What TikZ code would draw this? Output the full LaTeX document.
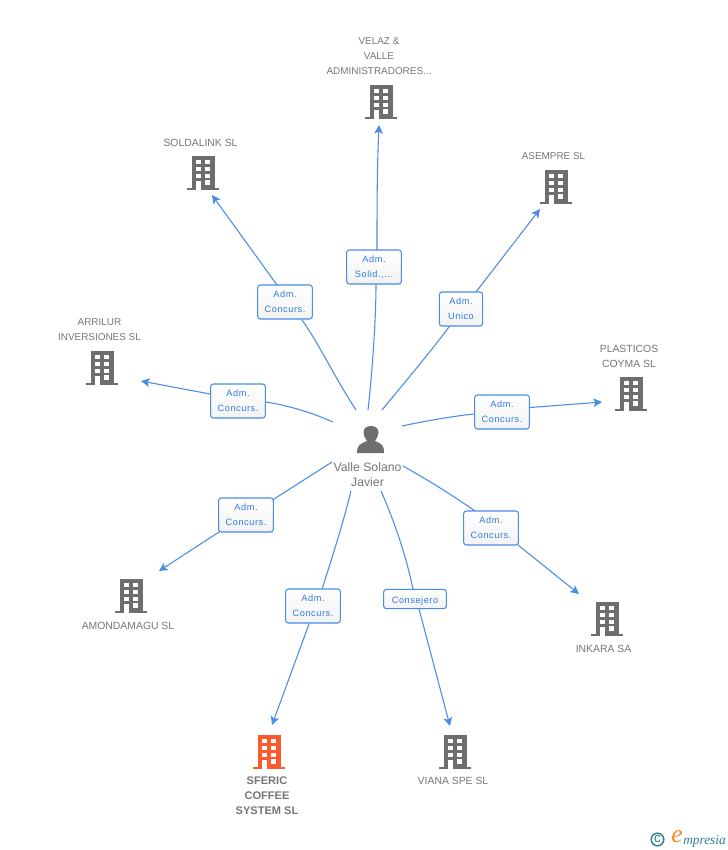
\documentclass[tikz,border=0pt]{standalone}
\usepackage{fontspec}
\setmainfont{Liberation Sans}
\newfontfamily\lblfont[LetterSpace=6]{Liberation Sans}
\newfontfamily\logofont{Liberation Serif}
\definecolor{linkblue}{HTML}{4A8CE6}
\definecolor{labelblue}{HTML}{2E7BE0}
\definecolor{icongrey}{HTML}{6E6E6E}
\definecolor{textgrey}{HTML}{767676}
\definecolor{sferic}{HTML}{FF5A2C}
\definecolor{logoteal}{HTML}{2F7F93}
\definecolor{logoorange}{HTML}{F58A1F}
\usetikzlibrary{arrows.meta}
\tikzset{
  x=0.75pt,y=-0.75pt,
  link/.style={draw=linkblue,line width=0.8pt,-{Stealth[length=6.5pt,width=6.5pt,inset=1.6pt]}},
  edgelabel/.style={draw=linkblue,line width=0.8pt,rounded corners=2pt,
    top color=white,bottom color=white!95!black,
    minimum width=41pt,minimum height=25.5pt,inner sep=0pt,align=center,
    execute at begin node=\rule{0pt}{7.6pt},
    font=\lblfont\fontsize{6.9pt}{11pt}\selectfont,text=labelblue},
  wideedge/.style={edgelabel,minimum width=47pt,minimum height=14.5pt},
  narrowedge/.style={edgelabel,minimum width=32.5pt},
  name label/.style={align=center,text=textgrey,inner sep=0pt,
    font=\fontsize{7.8pt}{11.2pt}\selectfont},
  narrow name/.style={name label,font=\fontsize{7.45pt}{11.2pt}\selectfont},
  pics/building/.style={code={
    \fill[#1] (-11.5,-17) rectangle (11.5,14.5);
    \fill[#1] (-16,14.5) rectangle (16,17);
    \foreach \cx in {-4.5,4.5}
      \foreach \cy in {-11,-4,3}
        \fill[white] (\cx-2.4,\cy-2.1) rectangle (\cx+2.4,\cy+2.1);
    \fill[white] (2.1,7) rectangle (6.9,11.5);
    \fill[white] (-6.9,7.5) rectangle (-2.1,17);
  }},
}
\begin{document}
\begin{tikzpicture}
\useasboundingbox (0,0) rectangle (728,850);
\fill[white] (0,0) rectangle (728,850);

% hub
\fill[icongrey] (357,453) .. controls (357,445) and (360,444) .. (367,441)
  .. controls (365,438) and (363.5,435) .. (363.5,432.5)
  .. controls (363.5,428) and (367,426) .. (371,426)
  .. controls (375,426) and (378.5,428) .. (378.5,432.5)
  .. controls (378.5,435) and (377,438) .. (375,441)
  .. controls (382,444) and (384,445) .. (384,453) -- cycle;
\node[name label,font=\fontsize{9.2pt}{11.2pt}\selectfont] (hubtext) at (367.5,474.5) {Valle Solano\\Javier};

% building icons
\pic at (381,102) {building=icongrey};
\pic at (203,173) {building=icongrey};
\pic at (556,187) {building=icongrey};
\pic at (631,394) {building=icongrey};
\pic at (102,368) {building=icongrey};
\pic at (131,596) {building=icongrey};
\pic at (269,752) {building=sferic};
\pic at (455,752) {building=icongrey};
\pic at (607,619) {building=icongrey};

% names
\node[narrow name] (nvelaz) at (379,56.5) {VELAZ \&\\VALLE\\ADMINISTRADORES...};
\node[name label] (nsolda) at (200.5,142.5) {SOLDALINK SL};
\node[narrow name] (nasem) at (553.5,156) {ASEMPRE SL};
\node[name label] (nplas) at (629,356) {PLASTICOS\\COYMA SL};
\node[narrow name] (narri) at (99.5,330) {ARRILUR\\INVERSIONES SL};
\node[name label] (namon) at (128,625.5) {AMONDAMAGU SL};
\node[name label,font=\bfseries\fontsize{8.3pt}{11.2pt}\selectfont] (nsfer) at (267,796) {SFERIC\\COFFEE\\SYSTEM SL};
\node[name label] (nvian) at (453,781) {VIANA SPE SL};
\node[name label] (nink) at (603.5,648.5) {INKARA SA};

% connector ends
\coordinate (s1) at (368,410); \coordinate (t1) at (379,125);
\coordinate (s2) at (356,410); \coordinate (t2) at (212,195);
\coordinate (s3) at (382,410); \coordinate (t3) at (540,209);
\coordinate (s4) at (402,426); \coordinate (t4) at (602,402);
\coordinate (s5) at (333,422); \coordinate (t5) at (141,381);
\coordinate (s6) at (332,462); \coordinate (t6) at (159,571);
\coordinate (s7) at (351,491); \coordinate (t7) at (272,725);
\coordinate (s8) at (381,491); \coordinate (t8) at (450,726);
\coordinate (s9) at (403,466); \coordinate (t9) at (579,594);

% connectors (each passes behind its label)
\draw[link] (s1) .. controls (372,375) and (376,320) .. (376,284) -- (377,250) .. controls (377,210) and (377,170) .. (t1);
\draw[link] (s2) .. controls (335,378) and (318,342) .. (302,320) -- (277,285) -- (t2);
\draw[link] (s3) .. controls (405,382) and (432,350) .. (449,327) -- (476,292) -- (t3);
\draw[link] (s4) .. controls (430,420) and (455,416) .. (474,414) -- (530,407.5) -- (t4);
\draw[link] (s5) .. controls (308,411) and (285,405) .. (266,402) -- (210,394) -- (t5);
\draw[link] (s6) -- (274,499) -- (219,532) -- (t6);
\draw[link] (s7) .. controls (342,527) and (332,558) .. (322,589) -- (309,624) -- (t7);
\draw[link] (s8) .. controls (396,525) and (407,560) .. (413,589) -- (419,609) -- (t8);
\draw[link] (s9) .. controls (428,480) and (452,495) .. (475,511) -- (518,545) -- (t9);

% labels
\node[edgelabel] (l1) at (374,267) {Adm.\\Solid.,...};
\node[edgelabel] (l2) at (285,302) {Adm.\\Concurs.};
\node[narrowedge] (l3) at (461,309) {Adm.\\Unico};
\node[edgelabel] (l4) at (502,412) {Adm.\\Concurs.};
\node[edgelabel] (l5) at (238,401) {Adm.\\Concurs.};
\node[edgelabel] (l6) at (246,515) {Adm.\\Concurs.};
\node[edgelabel] (l7) at (313,606) {Adm.\\Concurs.};
\node[wideedge] (l8) at (415,599) {Consejero};
\node[edgelabel] (l9) at (491,528) {Adm.\\Concurs.};

% logo
\draw[logoteal,line width=1.1pt] (657.5,839.5) circle (6.3);
\node[text=logoteal,inner sep=0pt,font=\fontsize{10pt}{10pt}\selectfont] (logoc) at (657.5,838.8) {c};
\node[text=logoorange,inner sep=0pt,font=\logofont\itshape\fontsize{19pt}{19pt}\selectfont] (logoe) at (677,837) {e};
\node[text=logoteal,inner sep=0pt,anchor=base west,font=\logofont\itshape\fontsize{10pt}{10pt}\selectfont] (logot) at (683,844) {mpresia};
\end{tikzpicture}
\end{document}
